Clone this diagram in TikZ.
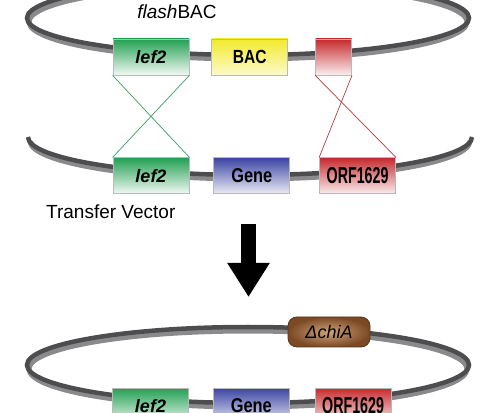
\documentclass[tikz,border=0pt]{standalone}
\usepackage{fontspec}
\setmainfont{Liberation Sans}
\newfontfamily\condfont[FakeStretch=0.82]{Liberation Sans}
\newfontfamily\narrowfont[FakeStretch=0.62]{Liberation Sans}
\usetikzlibrary{arrows.meta,positioning}
\definecolor{ringdark}{HTML}{4D4D4F}
\definecolor{ringlight}{HTML}{8A8A8C}
\definecolor{lefgreen}{HTML}{23A052}
\definecolor{bacyellow}{HTML}{F2EA2E}
\definecolor{orfred}{HTML}{C62A2E}
\definecolor{geneblue}{HTML}{3B45A3}
\definecolor{chidark}{HTML}{7B4A25}
\definecolor{chilight}{HTML}{CFA27A}
\definecolor{crossgreen}{HTML}{3C9C62}
\definecolor{crossred}{HTML}{B23A3E}

\tikzset{
  ringwall/.style={draw=ringlight, line width=5pt},
  ringtop/.style={draw=ringdark, line width=4.5pt},
  genebox/.style={draw=gray!55, line width=0.8pt, minimum width=76pt,
    minimum height=36pt, inner sep=0pt, text=black},
  lefbox/.style={genebox, top color=lefgreen, bottom color=lefgreen!6!white,
    font=\fontsize{18}{20}\selectfont\bfseries\itshape},
  bacbox/.style={genebox, top color=bacyellow, bottom color=bacyellow!25!white,
    font=\condfont\fontsize{19}{21}\selectfont\bfseries},
  bluebox/.style={genebox, top color=geneblue, bottom color=geneblue!10!white,
    font=\condfont\fontsize{20}{22}\selectfont\bfseries},
  orfbox/.style={genebox, top color=orfred, bottom color=orfred!8!white,
    font=\narrowfont\fontsize{23}{24}\selectfont\bfseries},
  chibox/.style={draw=chidark!70!black, line width=0.8pt, rounded corners=9pt,
    minimum width=82pt, minimum height=30pt, inner sep=0pt,
    inner color=chilight, outer color=chidark,
    font=\fontsize{18}{20}\selectfont\itshape},
  vectorname/.style={font=\fontsize{19}{22}\selectfont, inner sep=0pt},
  crossline/.style={line width=0.7pt},
  bigarrow/.style={line width=15pt, -{Triangle[width=40pt,length=34pt]}}
}

\begin{document}
\begin{tikzpicture}[x=1pt,y=1pt]
\useasboundingbox (0,0) rectangle (500,412);

% flashBAC
\draw[ringwall] (248,390) ellipse [x radius=219, y radius=37];
\draw[ringtop] (248,394) ellipse [x radius=221, y radius=37];
\node[vectorname] (flashbac) at (177,400) {\textit{flash}BAC};
\node[lefbox] (lefA) at (151,355) {lef2};
\node[bacbox, right=22pt of lefA] (bac) {BAC};
\node[orfbox, minimum width=36pt, right=27pt of bac] (orfA) {};

% transfer vector
\draw[ringwall] (30,271) arc [start angle=180, end angle=360, x radius=220, y radius=38];
\draw[ringtop] (28,275) arc [start angle=180, end angle=360, x radius=222, y radius=38];
\node[lefbox, below=82pt of lefA] (lefB) {lef2};
\node[bluebox, right=24pt of lefB] (geneB) {Gene};
\node[orfbox, right=29pt of geneB] (orfB) {ORF1629};
\node[vectorname, anchor=west] (tv) at (46,200) {Transfer Vector};

% crossover
\draw[crossline, crossgreen] (lefA.south west) -- (lefB.north east);
\draw[crossline, crossgreen] (lefA.south east) -- (lefB.north west);
\draw[crossline, crossred] (orfA.south west) -- (orfB.north east);
\draw[crossline, crossred] (orfA.south east) -- (orfB.north west);

% arrow
\coordinate (arrowfrom) at (248.5,188);
\coordinate (arrowto) at (248.5,115);
\draw[bigarrow] (arrowfrom) -- (arrowto);

% recombinant
\draw[ringwall] (248,43) ellipse [x radius=219, y radius=38];
\draw[ringtop] (248,47) ellipse [x radius=221, y radius=38];
\node[chibox] (chi) at (329,80) {ΔchiA};
\node[lefbox] (lefC) at (150.5,6) {lef2};
\node[bluebox, right=24pt of lefC] (geneC) {Gene};
\node[orfbox, right=25pt of geneC] (orfC) {ORF1629};
\end{tikzpicture}
\end{document}
